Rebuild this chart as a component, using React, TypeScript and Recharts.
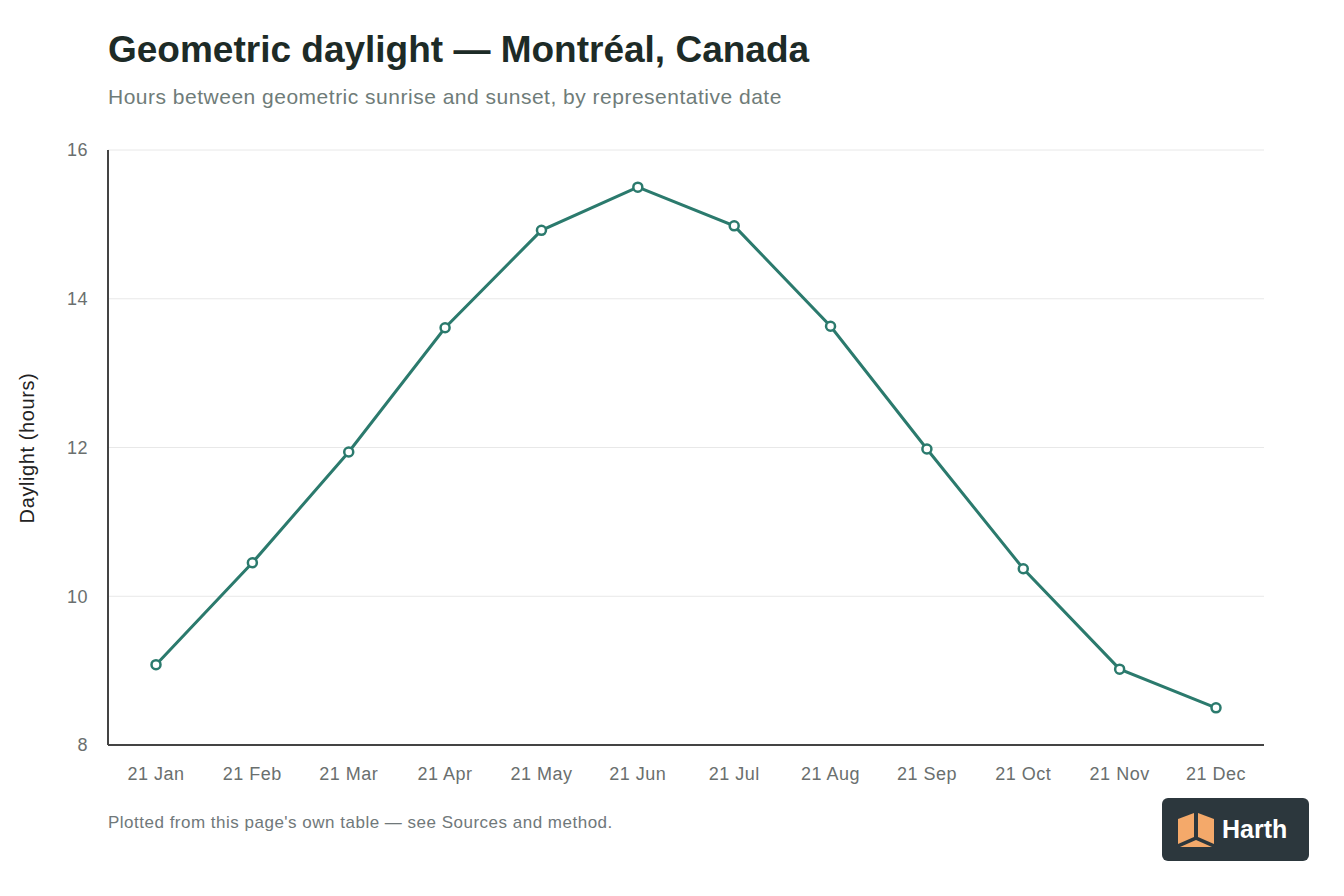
import * as React from 'react';
import { LineChart, Line, XAxis, YAxis, CartesianGrid } from 'recharts';

const dates = ['21 Jan', '21 Feb', '21 Mar', '21 Apr', '21 May', '21 Jun', '21 Jul', '21 Aug', '21 Sep', '21 Oct', '21 Nov', '21 Dec'];
const daylightHours = [9.08, 10.45, 11.94, 13.61, 14.92, 15.5, 14.98, 13.63, 11.98, 10.37, 9.02, 8.5];
const yTicks = [8, 10, 12, 14, 16];

const data = dates.map((d, i) => ({ date: d, hours: daylightHours[i] }));

const FONT = '"Liberation Sans", Arial, Helvetica, sans-serif';
const TEAL = '#2b7a6d';
const tickStyle = { fill: '#6a6f6e', fontSize: 18, fontFamily: FONT, letterSpacing: 0.5 };

const HarthLogo = () => (
  <div
    style={{
      position: 'absolute',
      left: 1162,
      top: 798,
      width: 147,
      height: 63,
      background: '#2c373d',
      borderRadius: 6,
      display: 'flex',
      alignItems: 'center',
      boxSizing: 'border-box',
      paddingLeft: 14,
    }}
  >
    <svg width={40} height={38} viewBox="0 0 40 38">
      <polygon points="2,8 18,2 18,26 2,33" fill="#f4a96a" />
      <polygon points="22,2 38,8 38,33 22,26" fill="#f4a96a" />
      <polygon points="4,36 20,29 36,36" fill="#f4a96a" />
    </svg>
    <span style={{ color: '#fff', fontFamily: FONT, fontWeight: 700, fontSize: 25, marginLeft: 6 }}>Harth</span>
  </div>
);

export default function App() {
  return (
    <div style={{ position: 'absolute', left: 0, top: 0, width: 1344, height: 896, background: '#fff', fontFamily: FONT }}>
      <div style={{ position: 'absolute', left: 108, top: 29, fontSize: 37, fontWeight: 700, color: '#1d2b27', whiteSpace: 'nowrap' }}>
        Geometric daylight — Montréal, Canada
      </div>
      <div style={{ position: 'absolute', left: 108, top: 85, fontSize: 21, letterSpacing: 0.5, color: '#6f7c79', whiteSpace: 'nowrap' }}>
        Hours between geometric sunrise and sunset, by representative date
      </div>
      <div
        style={{
          position: 'absolute',
          left: 27,
          top: 448,
          transform: 'translate(-50%, -50%) rotate(-90deg)',
          fontSize: 20,
          letterSpacing: 0.6,
          color: '#222',
          whiteSpace: 'nowrap',
        }}
      >
        Daylight (hours)
      </div>
      <div style={{ position: 'absolute', left: 0, top: 0 }}>
        <LineChart width={1344} height={896} data={data} margin={{ top: 150, right: 80, bottom: 111, left: 0 }}>
          <CartesianGrid vertical={false} stroke="#e8e8e8" strokeWidth={1} />
          <XAxis
            dataKey="date"
            height={40}
            padding={{ left: 48, right: 48 }}
            tickLine={false}
            axisLine={{ stroke: '#444', strokeWidth: 2 }}
            tick={tickStyle}
            tickMargin={16}
            interval={0}
          />
          <YAxis
            width={108}
            domain={[8, 16]}
            ticks={yTicks}
            tickLine={false}
            axisLine={{ stroke: '#444', strokeWidth: 2 }}
            tick={tickStyle}
            tickMargin={14}
          />
          <Line
            type="linear"
            dataKey="hours"
            stroke={TEAL}
            strokeWidth={3}
            dot={{ r: 4.5, fill: '#fff', stroke: TEAL, strokeWidth: 2.5 }}
            isAnimationActive={false}
          />
        </LineChart>
      </div>
      <div style={{ position: 'absolute', left: 108, top: 813, fontSize: 17, letterSpacing: 0.5, color: '#70787a', whiteSpace: 'nowrap' }}>
        Plotted from this page's own table — see Sources and method.
      </div>
      <HarthLogo />
    </div>
  );
}
